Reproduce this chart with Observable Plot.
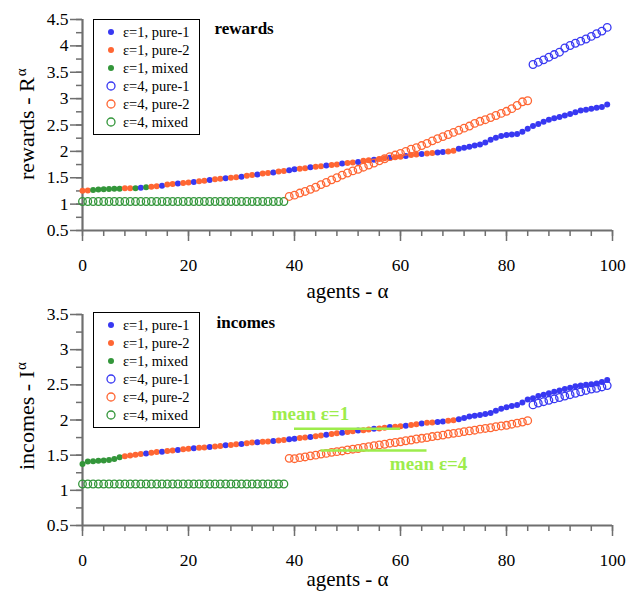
<!DOCTYPE html>
<html><head><meta charset="utf-8">
<script src="https://cdn.jsdelivr.net/npm/d3@7"></script>
<script src="https://cdn.jsdelivr.net/npm/@observablehq/plot@0.6"></script>
<style>
body{margin:0;background:#fff;}
#wrap{position:relative;width:627px;height:594px;font-family:"Liberation Serif",serif;overflow:hidden;}
#wrap svg{display:block;}
#wrap svg text{font-family:"Liberation Serif",serif;}
.legend{position:absolute;left:93px;width:107px;border:1px solid #000;background:#fff;padding:3px 0;box-sizing:border-box;font-family:"Liberation Serif",serif;}
.row{height:18px;display:flex;align-items:center;font-size:14.5px;line-height:18px;white-space:nowrap;}
.row svg{margin-left:11px;margin-right:6px;}
</style></head><body><div id="wrap"></div><script>
// ---------- data ----------
const agents = d3.range(0, 100);
const strategies = ["pure-1", "pure-2", "mixed"];
const strategyColors = ["#3838f2", "#ff6633", "#33963a"];
const codeName = {P1: "pure-1", P2: "pure-2", M: "mixed"};
const legendLabels = ["ε=1, pure-1", "ε=1, pure-2", "ε=1, mixed", "ε=4, pure-1", "ε=4, pure-2", "ε=4, mixed"];
const xTicks = [0, 20, 40, 60, 80, 100];
const xMinorTicks = [0,4,8,12,16,20,24,28,32,36,40,44,48,52,56,60,64,68,72,76,80,84,88,92,96,100];
const rewardsYTicks = [0.5, 1, 1.5, 2, 2.5, 3, 3.5, 4, 4.5];
const rewardsYMinor = [0.5,0.75,1,1.25,1.5,1.75,2,2.25,2.5,2.75,3,3.25,3.5,3.75,4,4.25,4.5];
const incomesYTicks = [0.5, 1, 1.5, 2, 2.5, 3, 3.5];
const incomesYMinor = [0.5,0.75,1,1.25,1.5,1.75,2,2.25,2.5,2.75,3,3.25,3.5];

// rewards, epsilon = 1
const rewardsEps1 = [
 1.255,1.26,1.27,1.275,1.28,1.285,1.29,1.29,1.30,1.30,
 1.30,1.31,1.32,1.33,1.34,1.35,1.37,1.38,1.39,1.40,
 1.41,1.42,1.435,1.445,1.455,1.47,1.48,1.49,1.50,1.51,
 1.52,1.54,1.55,1.56,1.58,1.59,1.60,1.62,1.63,1.64,
 1.66,1.67,1.68,1.70,1.71,1.72,1.73,1.74,1.75,1.77,
 1.78,1.79,1.80,1.82,1.83,1.84,1.855,1.87,1.88,1.89,
 1.90,1.91,1.93,1.94,1.95,1.96,1.97,1.98,1.99,2.00,
 2.01,2.05,2.07,2.09,2.11,2.13,2.17,2.22,2.26,2.29,
 2.31,2.32,2.33,2.37,2.43,2.48,2.52,2.56,2.60,2.63,
 2.65,2.68,2.71,2.74,2.775,2.79,2.81,2.825,2.84,2.89];
const rewardsStratEps1 = [
 "P2","P2","M","M","M","M","M","M","P2","P2",
 "M","P1","M","P2","P2","P1","P2","P2","P1","P2",
 "P2","P1","P2","P2","P1","P2","P2","P1","P2","P2",
 "P1","P2","P2","P1","P2","P2","P1","P2","P2","P1",
 "P1","P2","P2","P1","P2","P2","P1","P2","P2","P1",
 "P2","P2","P1","P2","P2","P1","P2","P2","P1","P2",
 "P2","P1","P2","P2","P1","P2","P2","P1","P1","P2",
 "P2","P1","P1","P1","P1","P1","P1","P1","P1","P1",
 "P1","P1","P1","P1","P1","P1","P1","P1","P1","P1",
 "P1","P1","P1","P1","P1","P1","P1","P1","P1","P1"];
// rewards, epsilon = 4
const rewardsEps4 = [
 1.05,1.05,1.05,1.05,1.05,1.05,1.05,1.05,1.05,1.05,
 1.05,1.05,1.05,1.05,1.05,1.05,1.05,1.05,1.05,1.05,
 1.05,1.05,1.05,1.05,1.05,1.05,1.05,1.05,1.05,1.05,
 1.05,1.05,1.05,1.05,1.05,1.05,1.05,1.05,1.05,1.145,
 1.17,1.21,1.24,1.28,1.32,1.37,1.41,1.46,1.50,1.55,
 1.59,1.63,1.66,1.70,1.74,1.78,1.82,1.86,1.90,1.93,
 1.96,2.00,2.04,2.07,2.11,2.15,2.20,2.24,2.28,2.32,
 2.36,2.40,2.44,2.48,2.53,2.57,2.60,2.64,2.68,2.72,
 2.76,2.81,2.87,2.94,2.96,3.647,3.69,3.735,3.785,3.836,
 3.88,3.96,4.007,4.05,4.09,4.13,4.18,4.23,4.28,4.35];
// incomes, epsilon = 1
const incomesEps1 = [
 1.375,1.41,1.415,1.42,1.425,1.43,1.445,1.47,1.485,1.495,
 1.505,1.515,1.525,1.535,1.545,1.55,1.56,1.565,1.575,1.585,
 1.59,1.60,1.605,1.61,1.615,1.625,1.63,1.64,1.645,1.655,
 1.66,1.67,1.68,1.685,1.69,1.695,1.70,1.71,1.715,1.725,
 1.735,1.745,1.75,1.76,1.77,1.78,1.79,1.80,1.81,1.82,
 1.83,1.84,1.85,1.855,1.865,1.875,1.88,1.89,1.90,1.905,
 1.91,1.92,1.93,1.94,1.95,1.96,1.965,1.97,1.98,1.99,
 1.995,2.01,2.03,2.05,2.06,2.07,2.085,2.10,2.13,2.16,
 2.18,2.20,2.215,2.25,2.29,2.31,2.34,2.36,2.38,2.40,
 2.42,2.44,2.46,2.48,2.49,2.50,2.51,2.52,2.54,2.57];
const incomesStratEps1 = [
 "M","M","M","M","M","M","M","M","P2","P2",
 "P2","P2","P1","P2","P2","P1","P2","P2","P1","P2",
 "P2","P1","P2","P2","P1","P2","P2","P1","P2","P2",
 "P1","P2","P2","P1","P2","P2","P1","P2","P2","P1",
 "P1","P2","P2","P1","P2","P2","P1","P2","P2","P1",
 "P2","P2","P1","P2","P2","P1","P2","P2","P1","P2",
 "P2","P1","P2","P2","P1","P2","P2","P1","P1","P2",
 "P2","P1","P1","P1","P1","P1","P1","P1","P1","P1",
 "P1","P1","P1","P1","P1","P1","P1","P1","P1","P1",
 "P1","P1","P1","P1","P1","P1","P1","P1","P1","P1"];
// incomes, epsilon = 4
const incomesEps4 = [
 1.09,1.09,1.09,1.09,1.09,1.09,1.09,1.09,1.09,1.09,
 1.09,1.09,1.09,1.09,1.09,1.09,1.09,1.09,1.09,1.09,
 1.09,1.09,1.09,1.09,1.09,1.09,1.09,1.09,1.09,1.09,
 1.09,1.09,1.09,1.09,1.09,1.09,1.09,1.09,1.09,1.455,
 1.45,1.465,1.475,1.49,1.50,1.515,1.525,1.54,1.55,1.56,
 1.575,1.585,1.595,1.61,1.62,1.635,1.645,1.655,1.67,1.68,
 1.69,1.705,1.715,1.73,1.74,1.75,1.765,1.775,1.785,1.80,
 1.81,1.82,1.835,1.845,1.855,1.87,1.88,1.89,1.905,1.915,
 1.925,1.94,1.955,1.97,1.99,2.215,2.24,2.26,2.28,2.30,
 2.32,2.34,2.36,2.38,2.40,2.42,2.44,2.45,2.47,2.49];
// epsilon = 4 strategies (same in both panels)
const stratEps4 = [
 "M","M","M","M","M","M","M","M","M","M",
 "M","M","M","M","M","M","M","M","M","M",
 "M","M","M","M","M","M","M","M","M","M",
 "M","M","M","M","M","M","M","M","M","P2",
 "P2","P2","P2","P2","P2","P2","P2","P2","P2","P2",
 "P2","P2","P2","P2","P2","P2","P2","P2","P2","P2",
 "P2","P2","P2","P2","P2","P2","P2","P2","P2","P2",
 "P2","P2","P2","P2","P2","P2","P2","P2","P2","P2",
 "P2","P2","P2","P2","P2","P1","P1","P1","P1","P1",
 "P1","P1","P1","P1","P1","P1","P1","P1","P1","P1"];
// annotations (data coordinates)
const meanLines = [{label: "mean ε=1", x1: 40, x2: 60, y: 1.875}, {label: "mean ε=4", x1: 45, x2: 65, y: 1.565}];
const meanLabels = [{label: "mean ε=1", x: 43, y: 2.09}, {label: "mean ε=4", x: 65.3, y: 1.38}];

// ---------- drawing ----------
const axisGray = "#6f6f6f";
const meanGreen = "#9dec4c";
const FONT = "'Liberation Serif', 'Times New Roman', serif";
const wrap = document.getElementById("wrap");

function makePanel(cfg) {
  const solid = agents.map((a, i) => ({agent: a, value: cfg.eps1[i], s: codeName[cfg.strat1[i]]}));
  const open = agents.map((a, i) => ({agent: a, value: cfg.eps4[i], s: codeName[stratEps4[i]]}));
  const chart = Plot.plot({
    width: 627, height: 297,
    marginLeft: 82, marginRight: 15, marginTop: cfg.marginTop, marginBottom: cfg.marginBottom,
    style: {fontFamily: FONT, fontSize: "17.5px", background: "white", color: "black", overflow: "visible"},
    x: {domain: [0, 100]},
    y: {domain: [cfg.yTicks[0], cfg.yTicks[cfg.yTicks.length - 1]]},
    color: {domain: strategies, range: strategyColors},
    marks: [
      Plot.axisY({ticks: cfg.yMinor, tickSize: 6, tickFormat: () => "", stroke: axisGray, strokeWidth: 1.5, label: null}),
      Plot.axisY({ticks: cfg.yTicks, tickSize: 12, tickPadding: 2, tickFormat: d => String(d), stroke: axisGray, strokeWidth: 1.5, fill: "black", fontSize: 17.5, fontFamily: FONT, label: null}),
      Plot.axisX({ticks: xMinorTicks, tickSize: 6, tickFormat: () => "", stroke: axisGray, strokeWidth: 1.5, label: null}),
      Plot.axisX({ticks: xTicks, tickSize: 11, tickPadding: 17, tickFormat: d => String(d), stroke: axisGray, strokeWidth: 1.5, fill: "black", fontSize: 17.5, fontFamily: FONT, label: null}),
      Plot.ruleX([0], {stroke: axisGray, strokeWidth: 2.2}),
      Plot.ruleY([cfg.yTicks[0]], {stroke: axisGray, strokeWidth: 2.2}),
      Plot.dot(solid, {x: "agent", y: "value", fill: "s", r: 3, stroke: null}),
      Plot.dot(open, {x: "agent", y: "value", stroke: "s", fill: "none", r: 3.8, strokeWidth: 1.3}),
      ...(cfg.means ? [
        Plot.ruleY(meanLines, {y: "y", x1: "x1", x2: "x2", stroke: meanGreen, strokeWidth: 2.5}),
        Plot.text(meanLabels, {x: "x", y: "y", text: "label", fill: meanGreen, fontWeight: "bold", fontSize: 19, fontFamily: FONT, textAnchor: "middle"})
      ] : []),
      Plot.text([cfg.title], {x: cfg.titleX, y: cfg.titleY, fontWeight: "bold", fontSize: 17, fontFamily: FONT, textAnchor: "middle"}),
      Plot.text(["agents - α"], {frameAnchor: "bottom", dy: cfg.xlabelDy, fontSize: 21, fontFamily: FONT, lineAnchor: "middle"})
    ]
  });
  const svg = d3.select(chart);
  const t = svg.append("text")
    .attr("transform", `translate(34,${cfg.ylabelBottom}) rotate(-90)`)
    .attr("font-family", FONT).attr("font-size", 22).attr("fill", "black").attr("text-anchor", "start");
  t.append("tspan").text(cfg.ylabel);
  t.append("tspan").attr("dy", "-0.55em").attr("dx", "1").attr("font-size", 15).text("α");
  return chart;
}

function makeLegend(top) {
  const div = document.createElement("div");
  div.className = "legend";
  div.style.top = top + "px";
  legendLabels.forEach((lab, i) => {
    const row = document.createElement("div");
    row.className = "row";
    const col = strategyColors[i % 3];
    const sym = i < 3
      ? `<circle cx="6" cy="6" r="3" fill="${col}"/>`
      : `<circle cx="6" cy="6" r="4" fill="none" stroke="${col}" stroke-width="1.3"/>`;
    row.innerHTML = `<svg width="12" height="12">${sym}</svg><span>${lab}</span>`;
    div.appendChild(row);
  });
  return div;
}

wrap.appendChild(makePanel({
  eps1: rewardsEps1, strat1: rewardsStratEps1, eps4: rewardsEps4,
  yTicks: rewardsYTicks, yMinor: rewardsYMinor, marginTop: 19, marginBottom: 67,
  title: "rewards", titleX: 30.5, titleY: 4.33, ylabel: "rewards - R", ylabelBottom: 180, xlabelDy: 61, means: false
}));
wrap.appendChild(makePanel({
  eps1: incomesEps1, strat1: incomesStratEps1, eps4: incomesEps4,
  yTicks: incomesYTicks, yMinor: incomesYMinor, marginTop: 17, marginBottom: 69,
  title: "incomes", titleX: 30.8, titleY: 3.39, ylabel: "incomes - I", ylabelBottom: 173, xlabelDy: 54, means: true
}));
wrap.appendChild(makeLegend(19));
wrap.appendChild(makeLegend(312));
</script></body></html>
